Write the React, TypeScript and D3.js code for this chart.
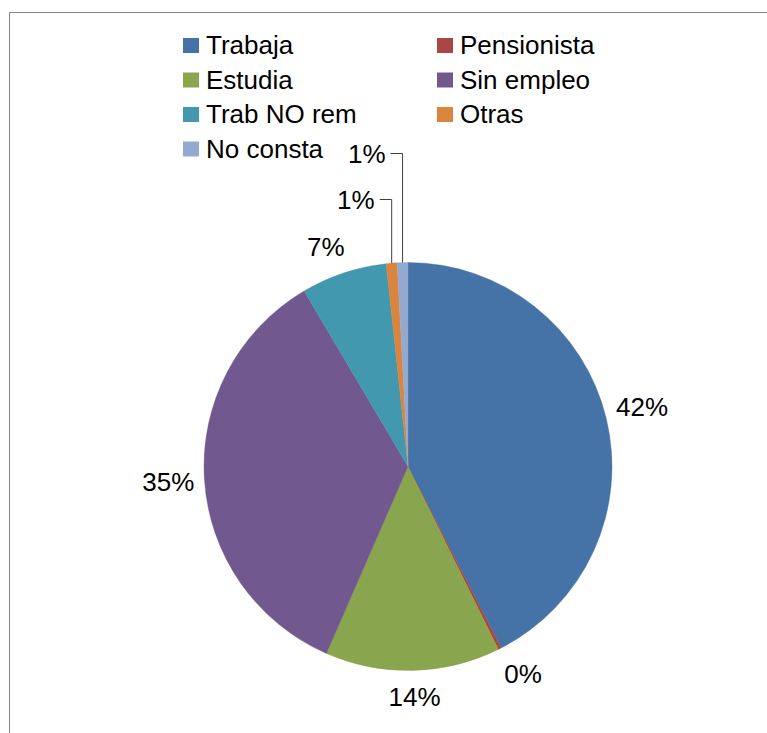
import React from 'react';
import * as d3 from 'd3';

const categories = ['Trabaja', 'Pensionista', 'Estudia', 'Sin empleo', 'Trab NO rem', 'Otras', 'No consta'];
const values = [42.45, 0.25, 13.85, 34.95, 6.8, 0.85, 0.85];
const colors = ['#4572A7', '#AA4643', '#89A54E', '#71588F', '#4198AF', '#DB843D', '#93A9CF'];
// labels drawn with a callout (leader line) and how far above the pie top they sit
const calloutRise: Record<number, number> = { 5: 63, 6: 109 };

const W = 767;
const H = 733;
const CX = 408;
const CY = 466.5;
const R = 204;
const FONT = '"Liberation Sans", Arial, sans-serif';
const FS = 26;

function textWidth(s: string): number {
  const c = document.createElement('canvas').getContext('2d');
  if (!c) return s.length * FS * 0.556;
  c.font = `${FS}px ${FONT}`;
  return c.measureText(s).width;
}

export default function App() {
  const pie = d3.pie<number>().sort(null).value((d) => d).startAngle(0).endAngle(2 * Math.PI);
  const arcs = pie(values);
  const arcGen = d3.arc<d3.PieArcDatum<number>>().innerRadius(0).outerRadius(R);
  const total = d3.sum(values);
  const fmt = (v: number) => `${Math.round((v / total) * 100)}%`;

  const gap = 10;
  const halfH = 16.5;
  const f = (d: number) => Math.max(-1, Math.min(1, d * 2.5));

  const labels = arcs.map((a, i) => {
    const mid = (a.startAngle + a.endAngle) / 2;
    const dx = Math.sin(mid);
    const dy = -Math.cos(mid);
    const text = fmt(a.value);
    const tw = textWidth(text);
    if (calloutRise[i] !== undefined) {
      const lx = CX + R * dx;
      const edgeY = CY - Math.sqrt(R * R - (lx - CX) * (lx - CX));
      const ly = CY - R - calloutRise[i];
      return { text, callout: true, lx, ly, edgeY, x: lx - 17, y: ly, anchor: 'end' as const };
    }
    const px = CX + (R + gap) * dx;
    const py = CY + (R + gap) * dy;
    const x = px + (tw / 2) * f(dx);
    const y = py + halfH * f(dy);
    return { text, callout: false, x, y, anchor: 'middle' as const, lx: 0, ly: 0, edgeY: 0 };
  });

  const legendX = [183, 437];
  const legendY0 = 38;
  const legendStep = 34.5;

  return (
    <svg width={W} height={H} style={{ position: 'absolute', left: 0, top: 0, background: '#fff' }}>
      <rect x={0} y={0} width={W} height={H} fill="#fff" />
      <line x1={9.5} y1={12.5} x2={W} y2={12.5} stroke="#868686" strokeWidth={1} />
      <line x1={9.5} y1={12.5} x2={9.5} y2={H} stroke="#868686" strokeWidth={1} />

      <g transform={`translate(${CX},${CY})`}>
        {arcs.map((a, i) => (
          <path key={i} d={arcGen(a) || ''} fill={colors[i]} stroke={colors[i]} strokeWidth={0.4} />
        ))}
      </g>

      {labels.map((l, i) => (
        <g key={i}>
          {l.callout && (
            <polyline
              points={`${l.x + 5},${l.ly} ${l.lx},${l.ly} ${l.lx},${l.edgeY}`}
              fill="none"
              stroke="#404040"
              strokeWidth={1}
            />
          )}
          <text
            x={l.x}
            y={l.y + 9}
            textAnchor={l.anchor}
            fontFamily={FONT}
            fontSize={FS}
            fill="#000"
          >
            {l.text}
          </text>
        </g>
      ))}

      {categories.map((c, i) => {
        const col = i % 2;
        const row = Math.floor(i / 2);
        const sx = legendX[col];
        const sy = legendY0 + row * legendStep;
        return (
          <g key={c}>
            <rect x={sx} y={sy} width={16} height={15} fill={colors[i]} />
            <text x={sx + 23} y={sy + 16} fontFamily={FONT} fontSize={FS} fill="#000">
              {c}
            </text>
          </g>
        );
      })}
    </svg>
  );
}
